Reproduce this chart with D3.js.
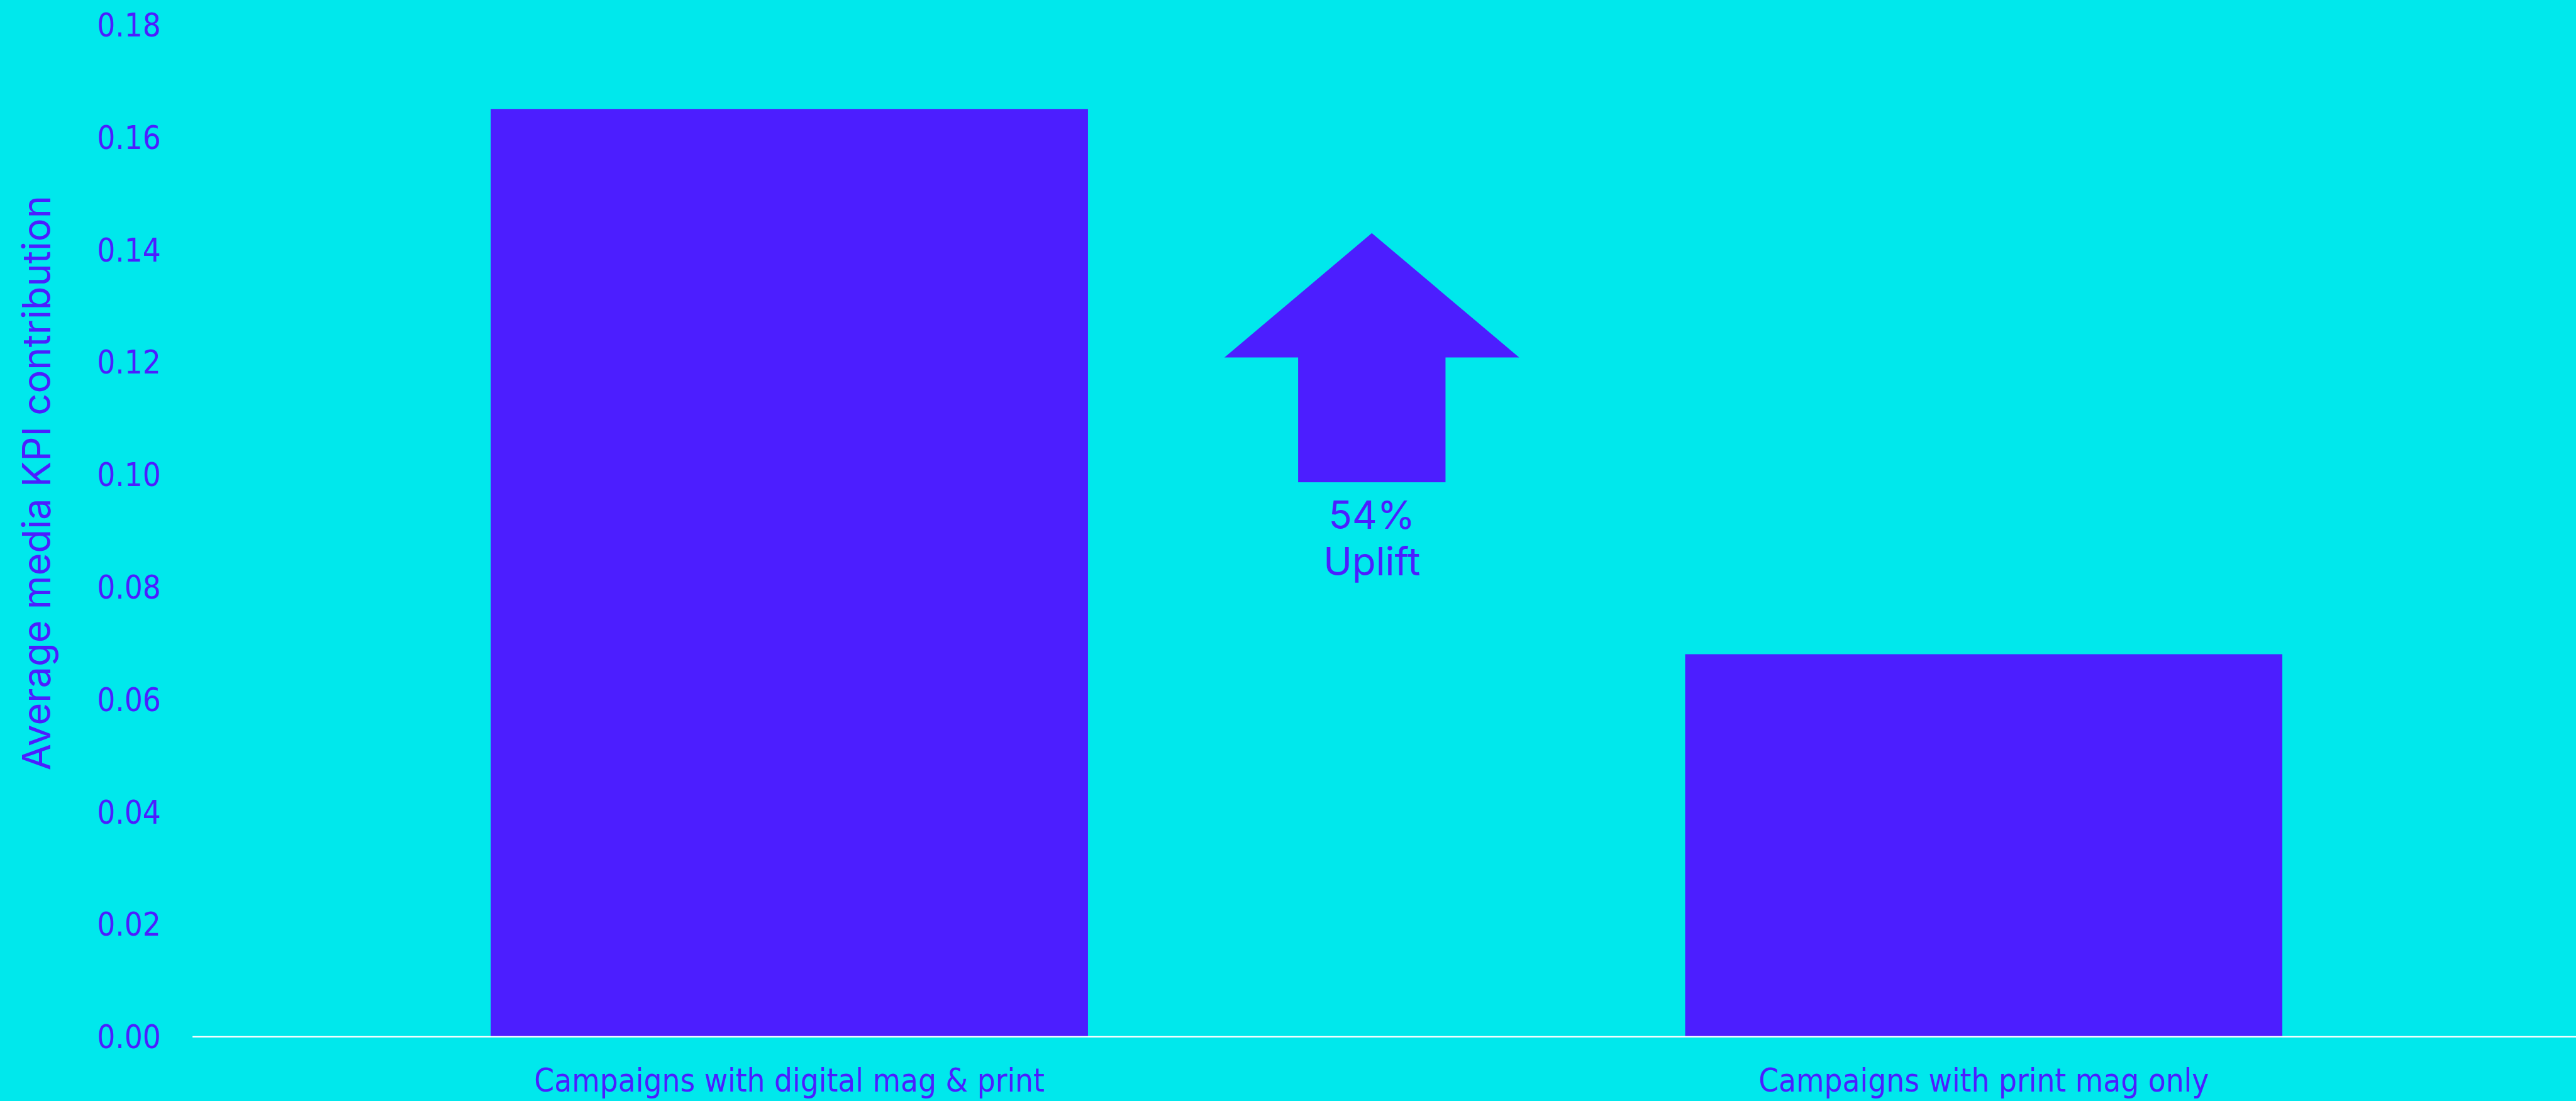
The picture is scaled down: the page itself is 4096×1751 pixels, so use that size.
<!DOCTYPE html>
<html lang="en">
<head>
    <meta charset="UTF-8">
    <title>Average media KPI contribution</title>
    <script src="https://d3js.org/d3.v7.min.js"></script>
    <style>
        body {
            margin: 0;
            padding: 0;
            background: #00e8ec;
            overflow: hidden;
        }
        #chart {
            width: 4096px;
            height: 1751px;
        }
        .tick text, .cat-label {
            font-family: "DejaVu Sans Condensed", "DejaVu Sans", sans-serif;
            font-size: 52px;
            fill: #4c1eff;
        }
        .title, .note {
            font-family: Inter, Lato, sans-serif;
            font-size: 63px;
            fill: #4c1eff;
        }
    </style>
</head>
<body>
    <div id="chart"></div>

    <script>
        const categories = ["Campaigns with digital mag & print", "Campaigns with print mag only"];
        const values = [0.165, 0.068];
        const yTicks = [0, 0.02, 0.04, 0.06, 0.08, 0.10, 0.12, 0.14, 0.16, 0.18];
        const upliftLabel = ["54%", "Uplift"];

        // drawn in the reference's own pixel space, the viewBox does the 0.976 shrink
        const W = 4195, H = 1793;
        const margin = { left: 313, right: -8, top: 40, bottom: 105 };
        const barColor = "#4c1eff";

        const svg = d3.select("#chart")
            .append("svg")
            .attr("width", 4096)
            .attr("height", 1751)
            .attr("viewBox", `0 0 ${W} ${H}`);

        svg.append("rect")
            .attr("width", W)
            .attr("height", H)
            .attr("fill", "#00e8ec");

        const x = d3.scaleBand()
            .domain(categories)
            .range([margin.left, W - margin.right])
            .paddingInner(0.5)
            .paddingOuter(0.25);

        const y = d3.scaleLinear()
            .domain([0, 0.18])
            .range([H - margin.bottom, margin.top]);

        // y axis: labels only
        const yAxis = svg.append("g")
            .attr("transform", `translate(${margin.left},0)`)
            .call(d3.axisLeft(y)
                .tickValues(yTicks)
                .tickFormat(d3.format(".2f"))
                .tickSize(0)
                .tickPadding(51));
        yAxis.select(".domain").remove();
        yAxis.selectAll("text").attr("dy", "0.36em");

        // bars
        svg.selectAll(".bar")
            .data(categories)
            .enter().append("rect")
            .attr("class", "bar")
            .attr("x", d => x(d))
            .attr("width", x.bandwidth())
            .attr("y", (d, i) => y(values[i]))
            .attr("height", (d, i) => y(0) - y(values[i]))
            .attr("fill", barColor);

        // baseline + category labels
        const xAxis = svg.append("g")
            .attr("transform", `translate(0,${y(0)})`)
            .call(d3.axisBottom(x).tickSize(0).tickPadding(0));
        xAxis.select(".domain")
            .attr("stroke", "#ffffff")
            .attr("stroke-width", 2.4);
        xAxis.selectAll("text")
            .attr("class", "cat-label")
            .attr("y", 90)
            .attr("dy", 0);

        // axis title
        svg.append("text")
            .attr("class", "title")
            .attr("transform", `translate(82,${(313 + 1260) / 2}) rotate(-90)`)
            .attr("text-anchor", "middle")
            .text("Average media KPI contribution");

        // uplift arrow between the bars
        const arrowX = 2234;
        const headHalf = 240, shaftHalf = 120;
        const tip = 0.1429, headBase = 0.1208, shaftBottom = 0.0986;
        const arrowPts = [
            [arrowX, y(tip)],
            [arrowX + headHalf, y(headBase)],
            [arrowX + shaftHalf, y(headBase)],
            [arrowX + shaftHalf, y(shaftBottom)],
            [arrowX - shaftHalf, y(shaftBottom)],
            [arrowX - shaftHalf, y(headBase)],
            [arrowX - headHalf, y(headBase)]
        ];
        svg.append("path")
            .attr("d", d3.line()(arrowPts) + "Z")
            .attr("fill", barColor);

        svg.selectAll(".note")
            .data(upliftLabel)
            .enter().append("text")
            .attr("class", "note")
            .attr("x", arrowX)
            .attr("y", (d, i) => 861 + i * 76)
            .attr("text-anchor", "middle")
            .text(d => d);
    </script>
</body>
</html>
